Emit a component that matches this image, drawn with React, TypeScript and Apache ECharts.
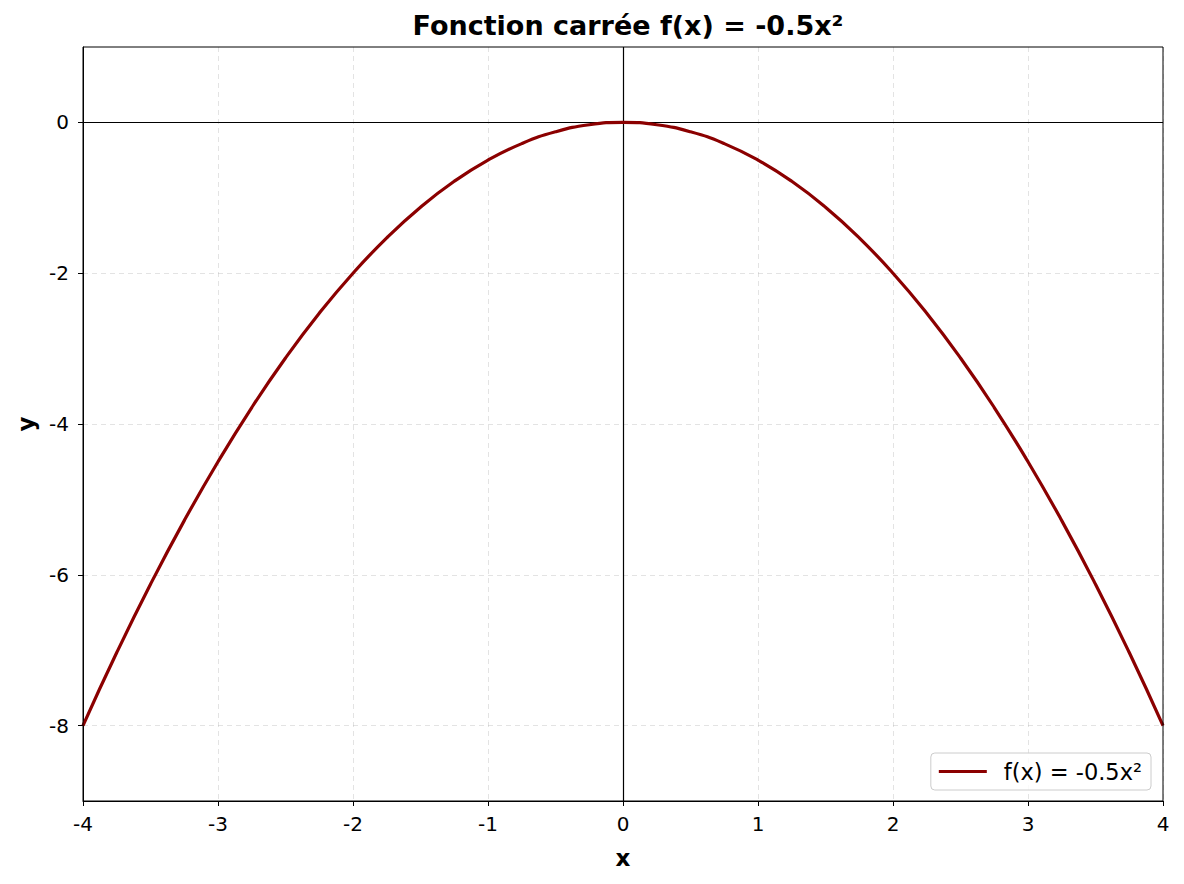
import React, { useEffect, useRef } from "react";
import * as echarts from "echarts";

const xValues = [-4, -3.75, -3.5, -3.25, -3, -2.75, -2.5, -2.25, -2, -1.75, -1.5, -1.25, -1, -0.75, -0.5, -0.25, 0, 0.25, 0.5, 0.75, 1, 1.25, 1.5, 1.75, 2, 2.25, 2.5, 2.75, 3, 3.25, 3.5, 3.75, 4];
const yValues = [-8, -7.03125, -6.125, -5.28125, -4.5, -3.78125, -3.125, -2.53125, -2, -1.53125, -1.125, -0.78125, -0.5, -0.28125, -0.125, -0.03125, 0, -0.03125, -0.125, -0.28125, -0.5, -0.78125, -1.125, -1.53125, -2, -2.53125, -3.125, -3.78125, -4.5, -5.28125, -6.125, -7.03125, -8];
const xTicks = [-4, -3, -2, -1, 0, 1, 2, 3, 4];
const yTicks = [-8, -6, -4, -2, 0];
const seriesName = "f(x) = -0.5x²";
const titleText = "Fonction carrée f(x) = -0.5x²";

const FONT = "DejaVu Sans";

export default function App() {
  const ref = useRef<HTMLDivElement>(null);
  useEffect(() => {
    if (!ref.current) return;
    const chart = echarts.init(ref.current, null, { renderer: "svg" });
    const data = xValues.map((x, i) => [x, yValues[i]]);
    chart.setOption({
      animation: false,
      backgroundColor: "#ffffff",
      textStyle: { fontFamily: FONT },
      title: {
        text: titleText,
        left: 623,
        textAlign: "center",
        top: 7,
        textStyle: { fontFamily: FONT, fontWeight: "bold", fontSize: 27, color: "#000" },
      },
      grid: { left: 83, right: 21, top: 47, bottom: 83, containLabel: false, outerBoundsMode: "none" },
      legend: {
        right: 33,
        bottom: 94,
        orient: "vertical",
        backgroundColor: "rgba(255,255,255,0.8)",
        borderColor: "#cccccc",
        borderWidth: 1,
        borderRadius: 4,
        padding: [7, 9, 7, 8],
        itemWidth: 48,
        itemHeight: 3,
        itemGap: 10,
        icon: "rect",
        textStyle: { fontFamily: FONT, fontSize: 22.5, color: "#000", padding: [0, 0, 0, 12] },
        data: [{ name: seriesName, icon: "rect" }],
      },
      xAxis: {
        type: "value",
        min: -4,
        max: 4,
        name: "x",
        nameLocation: "middle",
        nameGap: 45,
        nameTextStyle: { fontFamily: FONT, fontWeight: "bold", fontSize: 23, color: "#000" },
        axisLine: { show: true, onZero: false, lineStyle: { color: "#000", width: 1 } },
        axisTick: { show: true, inside: false, length: 5, lineStyle: { color: "#000" }, customValues: xTicks },
        axisLabel: { customValues: xTicks, fontFamily: FONT, fontSize: 20, color: "#000", margin: 13, formatter: (v: number) => String(v) },
        splitLine: { show: true, lineStyle: { color: "rgba(176,176,176,0.35)", type: [5, 4], width: 1 } },
      },
      yAxis: {
        type: "value",
        min: -9,
        max: 1,
        name: "y",
        nameLocation: "middle",
        nameGap: 46,
        nameTextStyle: { fontFamily: FONT, fontWeight: "bold", fontSize: 23, color: "#000" },
        axisLine: { show: true, onZero: false, lineStyle: { color: "#000", width: 1 } },
        axisTick: { show: true, inside: false, length: 5, lineStyle: { color: "#000" }, customValues: yTicks },
        axisLabel: { customValues: yTicks, fontFamily: FONT, fontSize: 20, color: "#000", margin: 14, formatter: (v: number) => String(v) },
        splitLine: { show: true, lineStyle: { color: "rgba(176,176,176,0.35)", type: [5, 4], width: 1 } },
      },
      graphic: [
        {
          type: "rect",
          shape: { x: 83, y: 47, width: 1080, height: 754 },
          style: { fill: "none", stroke: "#000", lineWidth: 1 },
          silent: true,
          z: 10,
        },
      ],
      series: [
        {
          name: seriesName,
          type: "line",
          data,
          smooth: true,
          showSymbol: false,
          symbol: "none",
          lineStyle: { color: "#8b0000", width: 3.2 },
          itemStyle: { color: "#8b0000" },
          z: 3,
          markLine: {
            silent: true,
            symbol: ["none", "none"],
            label: { show: false },
            lineStyle: { color: "#000", width: 1.2, type: "solid" },
            data: [{ xAxis: 0 }, { yAxis: 0 }],
            z: 1,
          },
        },
      ],
    });
    return () => chart.dispose();
  }, []);
  return <div ref={ref} style={{ width: 1184, height: 884, position: "absolute", left: 0, top: 0 }} />;
}
